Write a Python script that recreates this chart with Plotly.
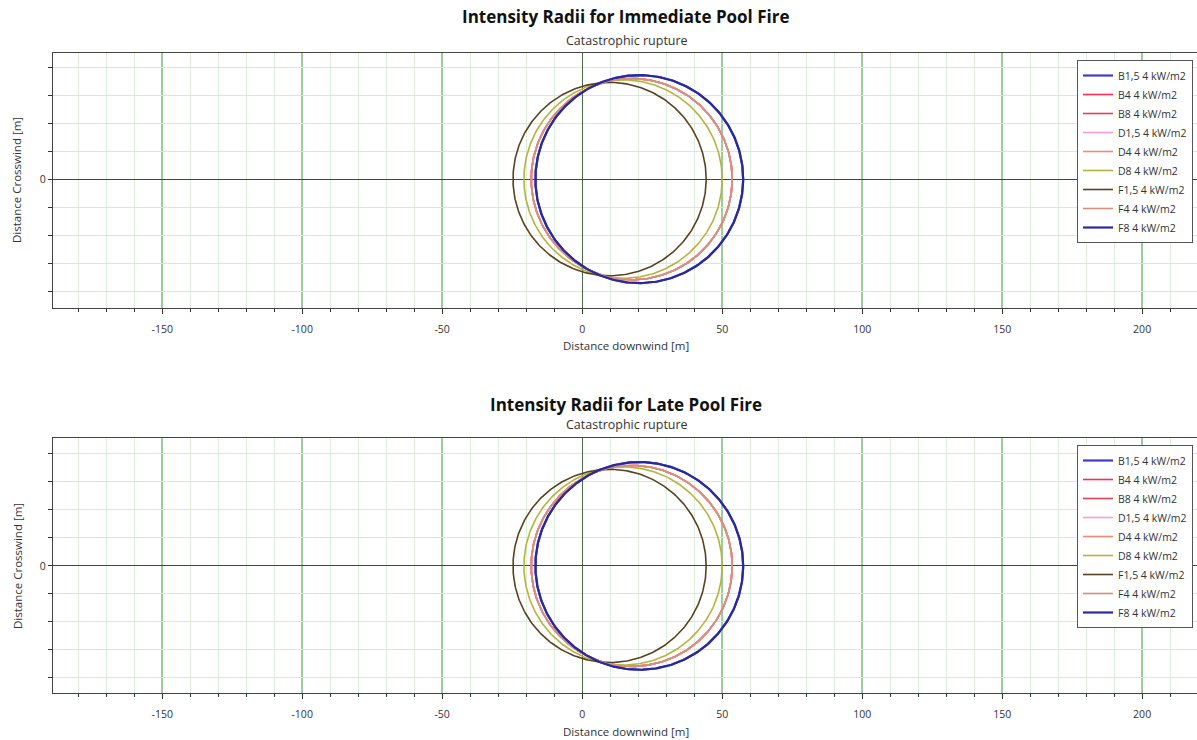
import numpy as np
import plotly.graph_objects as go

# ---------------- data ----------------
series_names = ["B1,5 4 kW/m2", "B4 4 kW/m2", "B8 4 kW/m2", "D1,5 4 kW/m2", "D4 4 kW/m2",
                "D8 4 kW/m2", "F1,5 4 kW/m2", "F4 4 kW/m2", "F8 4 kW/m2"]
series_colors = ["#3c3cc8", "#ff2a55", "#e0405a", "#ff9ad2", "#f08a70",
                 "#b4b43c", "#5a4220", "#d4917a", "#2828a0"]
# immediate pool fire: circle centre (downwind) and radius [m]
imm_center = [20.4, 17.7, 17.7, 17.7, 17.7, 14.6, 9.8, 17.7, 20.4]
imm_radius = [37.1, 35.9, 35.9, 35.9, 35.9, 35.4, 34.5, 35.9, 37.1]
# late pool fire
late_center = [20.4, 17.7, 17.7, 17.7, 17.7, 14.6, 9.8, 17.7, 20.4]
late_radius = [37.1, 35.9, 35.9, 35.9, 35.9, 35.4, 34.5, 35.9, 37.1]

x_tick_vals = [-150, -100, -50, 0, 50, 100, 150, 200]
x_tick_text = ["-150", "-100", "-50", "0", "50", "100", "150", "200"]
y_tick_vals = [-40, -30, -20, -10, 0, 10, 20, 30, 40]
y_tick_text = ["", "", "", "", "0", "", "", "", ""]

titles = ["Intensity Radii for Immediate Pool Fire", "Intensity Radii for Late Pool Fire"]
subtitle = "Catastrophic rupture"

# ---------------- layout geometry ----------------
W, H = 1197, 740
FONT = "Open Sans"

def py(p):  # pixel row -> paper y
    return 1 - p / H

def px(p):
    return p / W

theta = np.linspace(0, 2 * np.pi, 361)

fig = go.Figure()
for (cent, rad, xa, ya, leg) in [(imm_center, imm_radius, "x", "y", "legend"),
                                 (late_center, late_radius, "x2", "y2", "legend2")]:
    for name, col, c, r in zip(series_names, series_colors, cent, rad):
        width = 2.2 if name in ("B1,5 4 kW/m2", "F8 4 kW/m2") else 1.6
        fig.add_trace(go.Scatter(x=c + r * np.cos(theta), y=r * np.sin(theta),
                                 mode="lines", name=name,
                                 line=dict(color=col, width=width),
                                 xaxis=xa, yaxis=ya, legend=leg, hoverinfo="skip"))

def xaxis_cfg(anchor, dom):
    return dict(domain=dom, anchor=anchor, range=[-189, 219.6],
                tickmode="array", tickvals=x_tick_vals, ticktext=x_tick_text,
                showgrid=True, gridcolor="#9ccc9c", gridwidth=1.5,
                minor=dict(dtick=10, tick0=0, showgrid=True, gridcolor="#dcefdc", gridwidth=1,
                           ticks="outside", ticklen=3, tickcolor="#333333"),
                ticks="outside", ticklen=5, tickcolor="#333333", ticklabelstandoff=6,
                zeroline=True, zerolinecolor="#4a6a4a", zerolinewidth=1,
                showline=True, linecolor="#444444", linewidth=1.2, mirror=True,
                tickfont=dict(family=FONT, size=10.5, color="#333333"))

def yaxis_cfg(anchor, dom, rng):
    return dict(domain=dom, anchor=anchor, range=rng,
                tickmode="array", tickvals=y_tick_vals, ticktext=y_tick_text,
                showgrid=True, gridcolor="#d4ebd4", gridwidth=1,
                ticks="outside", ticklen=4, tickcolor="#333333",
                zeroline=True, zerolinecolor="#3a4a3a", zerolinewidth=1,
                showline=True, linecolor="#444444", linewidth=1.2, mirror=True,
                tickfont=dict(family=FONT, size=10.5, color="#333333"))

xdom = [px(53), 1.0]
annotations = []
for i, (ttl_y, sub_y, xt_y, y0pix) in enumerate([(17, 40, 345, 180), (404, 424, 731, 566)]):
    annotations.append(dict(text="<b>" + titles[i] + "</b>", x=px(626), y=py(ttl_y), xref="paper", yref="paper",
                            showarrow=False, font=dict(family=FONT, size=17, color="#111111"),
                            xanchor="center", yanchor="middle"))
    annotations.append(dict(text=subtitle, x=px(627), y=py(sub_y), xref="paper", yref="paper",
                            showarrow=False, font=dict(family=FONT, size=12.5, color="#333333"),
                            xanchor="center", yanchor="middle"))
    annotations.append(dict(text="Distance downwind [m]", x=px(626), y=py(xt_y), xref="paper", yref="paper",
                            showarrow=False, font=dict(family=FONT, size=11.5, color="#333333"),
                            xanchor="center", yanchor="middle"))
    annotations.append(dict(text="Distance Crosswind [m]", x=px(17), y=py(y0pix), xref="paper", yref="paper",
                            showarrow=False, textangle=-90, font=dict(family=FONT, size=11.5, color="#333333"),
                            xanchor="center", yanchor="middle"))

legend_common = dict(bgcolor="white", bordercolor="#555555", borderwidth=1,
                     font=dict(family=FONT, size=10.5, color="#333333"),
                     xanchor="left", yanchor="top", tracegroupgap=0, itemwidth=30)

fig.update_layout(
    width=W, height=H,
    margin=dict(l=0, r=0, t=0, b=0),
    paper_bgcolor="white", plot_bgcolor="white",
    xaxis=xaxis_cfg("y", xdom),
    yaxis=yaxis_cfg("x", [py(308), py(53)], [-46, 45]),
    xaxis2=xaxis_cfg("y2", xdom),
    yaxis2=yaxis_cfg("x2", [py(693), py(438)], [-45.4, 45.7]),
    annotations=annotations,
    legend=dict(x=px(1077), y=py(60), **legend_common),
    legend2=dict(x=px(1077), y=py(445), **legend_common),
    showlegend=True,
)

fig.write_html("out.html", config={"displayModeBar": False},
               post_script="document.body.style.margin='0';document.body.style.overflow='hidden';")
